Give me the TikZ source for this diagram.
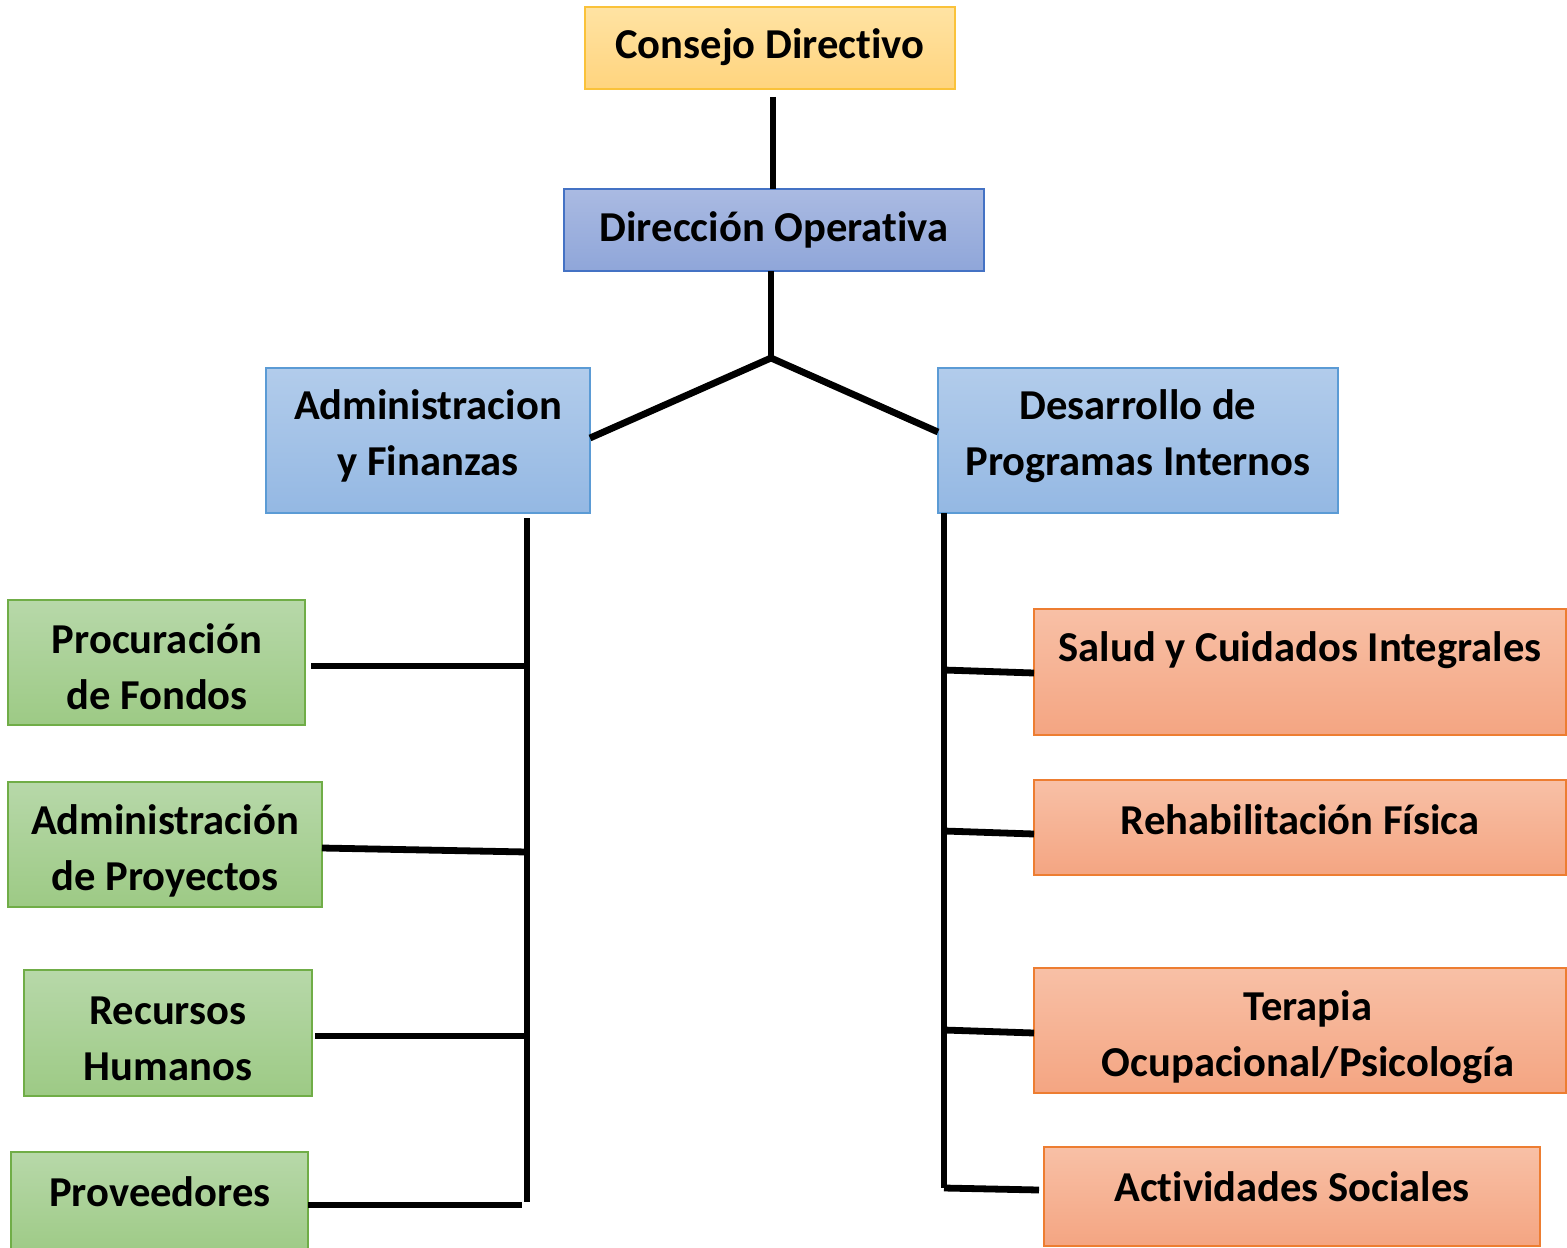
\documentclass[tikz,border=0pt]{standalone}
\usepackage{fontspec}
\setmainfont{Carlito}[Ligatures=NoCommon]
\definecolor{ylT}{HTML}{FFE3A3}
\definecolor{ylB}{HTML}{FFD47E}
\definecolor{ylD}{HTML}{FAC23A}
\definecolor{dbT}{HTML}{AABAE2}
\definecolor{dbB}{HTML}{8FA6D9}
\definecolor{dbD}{HTML}{4472C4}
\definecolor{lbT}{HTML}{B2CCEB}
\definecolor{lbB}{HTML}{94B8E3}
\definecolor{lbD}{HTML}{5B9BD5}
\definecolor{grT}{HTML}{B7D8A9}
\definecolor{grB}{HTML}{9DCA85}
\definecolor{grD}{HTML}{70AD47}
\definecolor{orT}{HTML}{F8C0A6}
\definecolor{orB}{HTML}{F4A582}
\definecolor{orD}{HTML}{ED7D31}
\begin{document}
\begin{tikzpicture}[x=0.5pt,y=-0.5pt,
  box/.style={rectangle,inner sep=0pt,outer sep=0pt,line width=0.8pt},
  yellowbox/.style={box,draw=ylD,top color=ylT,bottom color=ylB},
  darkbluebox/.style={box,draw=dbD,top color=dbT,bottom color=dbB},
  lightbluebox/.style={box,draw=lbD,top color=lbT,bottom color=lbB},
  greenbox/.style={box,draw=grD,top color=grT,bottom color=grB},
  orangebox/.style={box,draw=orD,top color=orT,bottom color=orB},
  lbl/.style={font=\bfseries\fontsize{21.3}{28}\selectfont,align=center,inner sep=0pt},
  conn/.style={line width=3.4pt,black}]
\useasboundingbox (0,0) rectangle (1567,1247);
% boxes
\node[yellowbox,minimum width=185pt,minimum height=41pt] (cd) at (770,48) {};
\node[darkbluebox,minimum width=210pt,minimum height=41pt] (do) at (774,230) {};
\node[lightbluebox,minimum width=162pt,minimum height=72.5pt] (af) at (428,440.5) {};
\node[lightbluebox,minimum width=200pt,minimum height=72.5pt] (dp) at (1138,440.5) {};
\node[greenbox,minimum width=148.5pt,minimum height=62.5pt] (pf) at (156.5,662.5) {};
\node[greenbox,minimum width=157pt,minimum height=62.5pt] (ap) at (165,844.5) {};
\node[greenbox,minimum width=144pt,minimum height=63pt] (rh) at (168,1033) {};
\node[greenbox,minimum width=148.5pt,minimum height=52pt] (pv) at (159.5,1204) {};
\node[orangebox,minimum width=266pt,minimum height=63pt] (sc) at (1300,672) {};
\node[orangebox,minimum width=266pt,minimum height=47.5pt] (rf) at (1300,827.5) {};
\node[orangebox,minimum width=266pt,minimum height=62.5pt] (to) at (1300,1030.5) {};
\node[orangebox,minimum width=248pt,minimum height=49.5pt] (as) at (1292,1196.5) {};
% texts
\node[lbl] (tcd) at (770,47.5) {Consejo Directivo};
\node[lbl] (tdo) at (774,229.5) {Dirección Operativa};
\node[lbl] (taf) at (428,436) {Administracion\\y Finanzas};
\node[lbl] (tdp) at (1138,436) {Desarrollo de\\Programas Internos};
\node[lbl] (tpf) at (157,667) {Procuración\\de Fondos};
\node[lbl] (tap) at (165,850.5) {Administración\\de Proyectos};
\node[lbl] (trh) at (168,1039) {Recursos\\Humanos};
\node[lbl] (tpv) at (160,1192) {Proveedores};
\node[lbl] (tsc) at (1300,650.5) {Salud y Cuidados Integrales};
\node[lbl] (trf) at (1300,820) {Rehabilitación Física};
\node[lbl] (tto) at (1308,1037) {Terapia\\Ocupacional/Psicología};
\node[lbl] (tas) at (1292,1187) {Actividades Sociales};
% connector points
\coordinate (j) at (771,358);
\coordinate (lt) at (527,518);
\coordinate (lb) at (527,1202);
\coordinate (rt) at (944,515);
\coordinate (rb) at (944,1188);
% connectors
\draw[conn] ([yshift=-4pt]cd.south -| 773,0) -- (do.north -| 773,0);
\draw[conn] (do.south -| j) -- (j);
\draw[conn] (j) -- (af.east |- 0,438);
\draw[conn] (j) -- (dp.west |- 0,432);
\draw[conn] ([yshift=-2.5pt]af.south -| lt) -- (lb);
\draw[conn] ([xshift=3pt]pf.east |- 0,666) -- (527,666);
\draw[conn] (ap.east |- 0,848) -- (527,852);
\draw[conn] ([xshift=1.5pt]rh.east |- 0,1036) -- (527,1036);
\draw[conn] (pv.east |- 0,1205) -- (522,1205);
\draw[conn] (dp.south -| rt) -- (rb);
\draw[conn] (944,670) -- (sc.west |- 0,673);
\draw[conn] (944,831) -- (rf.west |- 0,834);
\draw[conn] (944,1030) -- (to.west |- 0,1033);
\draw[conn] (rb) -- ([xshift=-2.5pt]as.west |- 0,1190);
\end{tikzpicture}
\end{document}
